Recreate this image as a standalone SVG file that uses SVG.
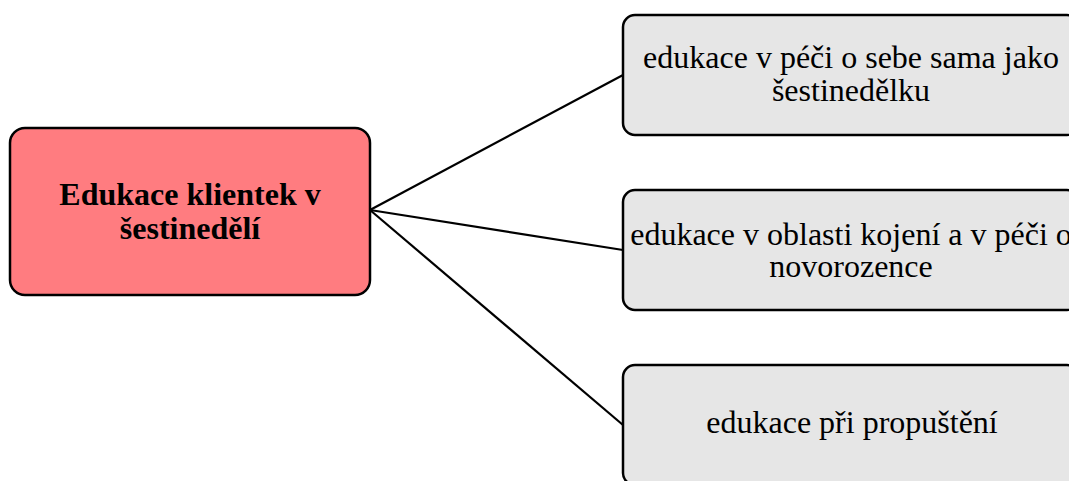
<svg xmlns="http://www.w3.org/2000/svg" width="1069" height="481" viewBox="0 0 1069 481">
<style>
.node rect{stroke:#000;stroke-width:2.5}
.main rect{fill:#FF7C80}
.sub rect{fill:#E6E6E6}
text{fill:#000;text-anchor:middle}
.main text{font-size:32px;font-weight:bold}
.sub text{font-size:32px}
.conn line{stroke:#000;stroke-width:2.2}
</style>
<rect width="1069" height="481" fill="#fff"/>
<g class="conn">
<line x1="370" y1="210" x2="623" y2="75"/>
<line x1="370" y1="210" x2="623" y2="250"/>
<line x1="370" y1="210" x2="623" y2="425"/>
</g>
<g font-family="'Liberation Serif', 'Times New Roman', Times, serif">
<g id="n0" class="node main">
<rect x="10" y="128" width="360" height="167" rx="15"/>
<text x="190" y="205">Edukace klientek v</text>
<text x="190" y="239">šestinedělí</text>
</g>
<g id="n1" class="node sub">
<rect x="623" y="15" width="456" height="120" rx="12"/>
<text x="851" y="68">edukace v péči o sebe sama jako</text>
<text x="851" y="101">šestinedělku</text>
</g>
<g id="n2" class="node sub">
<rect x="623" y="190" width="456" height="120" rx="12"/>
<text x="851" y="245">edukace v oblasti kojení a v péči o</text>
<text x="851" y="277">novorozence</text>
</g>
<g id="n3" class="node sub">
<rect x="623" y="365" width="456" height="120" rx="12"/>
<text x="852" y="433">edukace při propuštění</text>
</g>
</g>
</svg>
